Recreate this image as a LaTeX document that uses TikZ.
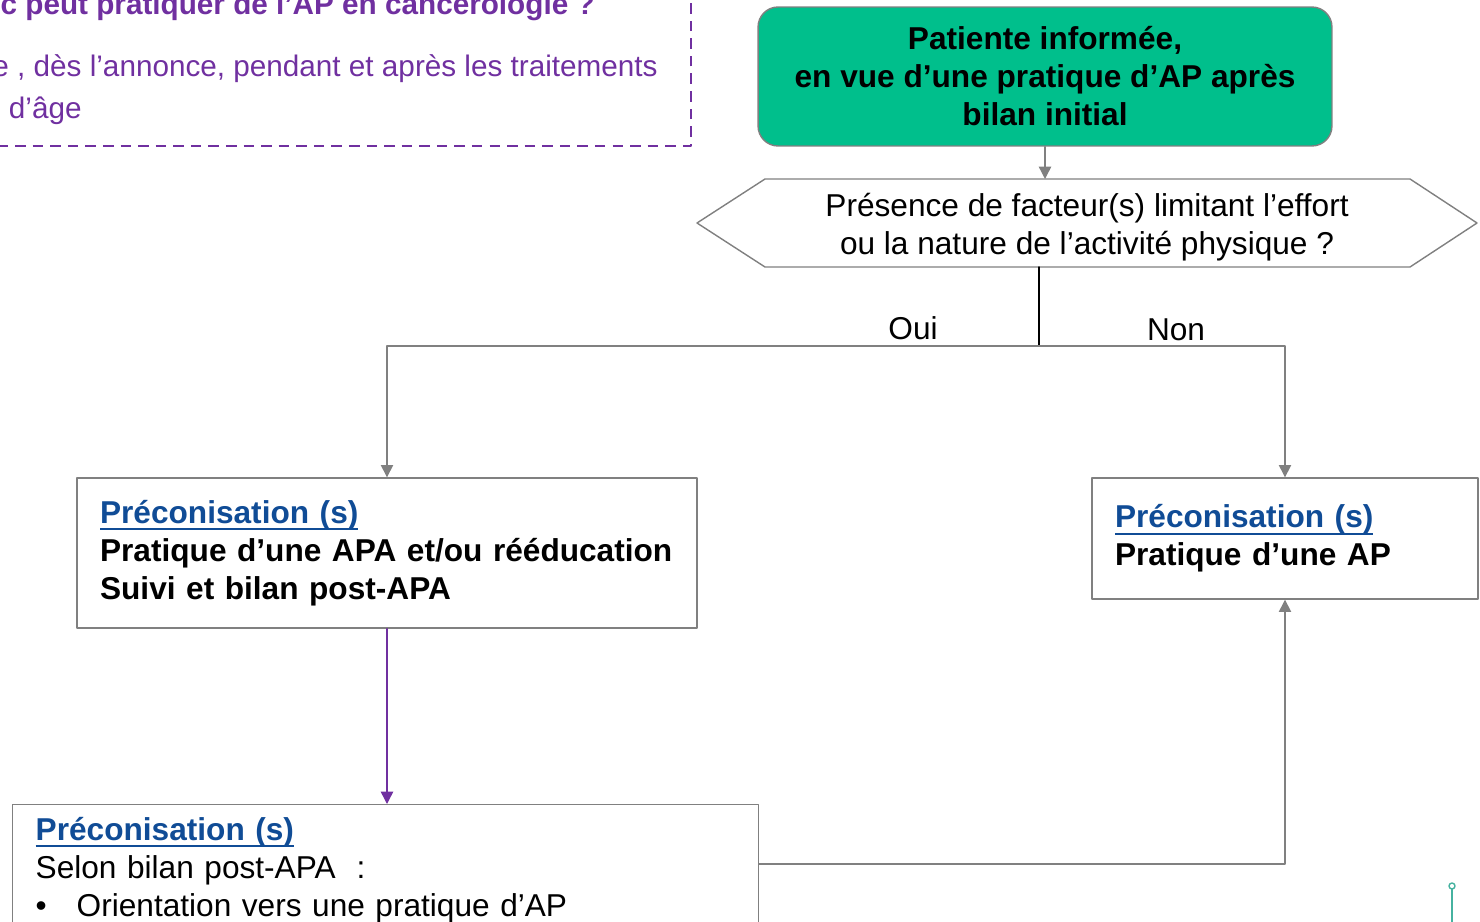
\documentclass[tikz,border=0pt]{standalone}
\usepackage{fontspec}
\setmainfont{Liberation Sans}
\usepackage{xcolor}
\usetikzlibrary{arrows.meta, positioning}

\definecolor{apgreen}{RGB}{0,191,140}
\definecolor{apblue}{RGB}{16,76,150}
\definecolor{appurple}{RGB}{112,48,160}
\definecolor{linegray}{RGB}{128,128,128}
\definecolor{apteal}{RGB}{70,178,160}

\newcommand{\preco}{\textcolor{apblue}{\setbox0\hbox{Préconisation (s)}%
    \rlap{\rule[-4pt]{\wd0}{1.1pt}}\box0}}

\begin{document}
\begin{tikzpicture}[x=0.02cm, y=-0.02cm, line cap=round, line join=round,
    txt/.style={font=\fontsize{18}{21.6}\selectfont, inner sep=0pt},
    pubtxt/.style={font=\fontsize{16.9}{20.3}\selectfont, inner sep=0pt, appurple, anchor=base east},
    pbox/.style={draw=linegray, line width=0.8pt, rectangle, align=left,
        font=\fontsize{18}{21.6}\selectfont, inner xsep=0.46cm, inner ysep=0pt},
    flow/.style={color=linegray, line width=0.8pt, -{Triangle[length=7pt,width=7pt]}}]
    \useasboundingbox (0,0) rectangle (1480,922);
    \clip (0,0) rectangle (1480,922);

    % public (dashed frame, cut by the page)
    \draw[appurple, line width=1.4pt, dash pattern=on 6pt off 4pt, line cap=butt]
        (-20,146) -- (691,146) -- (691,-20);
    \node[pubtxt, font=\fontsize{16.9}{20.3}\selectfont\bfseries] (qui) at (595,15)
        {ic peut pratiquer de l’AP en cancérologie ?};
    \node[pubtxt] (quand) at (658,77)
        {ne , dès l’annonce, pendant et après les traitements};
    \node[pubtxt] (age) at (82,119) {n d’âge};

    % patient informed
    \node[draw=linegray, fill=apgreen, rounded corners=0.4cm, line width=0.8pt,
        minimum width=11.48cm, minimum height=2.78cm, align=center,
        font=\fontsize{18}{21.6}\selectfont\bfseries] (informee) at (1045,76.5)
        {Patiente informée,\\en vue d’une pratique d’AP après\\bilan initial};

    % limiting factors
    \node[txt, align=center] (question) at (1087,227)
        {Présence de facteur(s) limitant l’effort\\ou la nature de l’activité physique ?};
    \draw[linegray, line width=0.8pt] (697,223) -- (765,179) -- (1410,179) -- (1477,223)
        -- (1410,267) -- (765,267) -- cycle;
    \coordinate (qtop) at (1045,179);
    \coordinate (qbot) at (1039,267);
    \coordinate (split) at (1039,346);

    % recommendations
    \node[pbox, minimum width=12.4cm, minimum height=3cm, text width=11.48cm] (apa) at (387,553)
        {\bfseries\preco\\Pratique d’une APA et/ou rééducation\\Suivi et bilan post-APA};
    \node[pbox, minimum width=7.72cm, minimum height=2.42cm, text width=6.8cm] (ap) at (1285,538.5)
        {\bfseries\preco\\Pratique d’une AP};
    \node[pbox, anchor=north west, inner ysep=0.25cm, text width=14cm, text depth=3cm] (post) at (12,804)
        {{\bfseries\preco}\\Selon bilan post-APA~~:\\\makebox[0.82cm][l]{•}Orientation vers une pratique d’AP};

    % connectors
    \draw[flow] (informee.south) -- (qtop);
    \draw[line width=0.8pt] (qbot) -- (split);
    \draw[flow] (split) -| (apa.north);
    \draw[flow] (split) -| (ap.north);
    \node[txt] (oui) at (913,328) {Oui};
    \node[txt] (non) at (1176,330) {Non};
    \draw[flow, color=appurple] (apa.south) -- (apa.south |- post.north);
    \draw[flow] ([yshift=-1.2cm]post.north east) -| (ap.south);

    % logo
    \draw[apteal, line width=1pt] (1452,922) -- (1452,889);
    \draw[apteal, line width=0.8pt] (1452,886) circle (3);
\end{tikzpicture}
\end{document}
